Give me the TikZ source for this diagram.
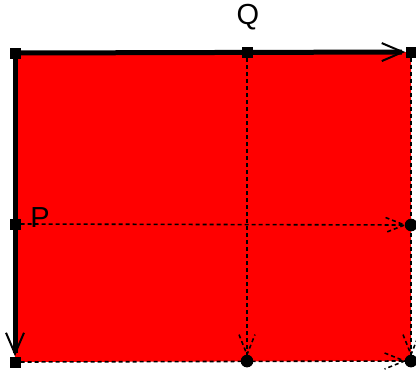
\documentclass[tikz,border=0pt]{standalone}
\usepackage{fontspec}
\setmainfont{Liberation Sans}
\usetikzlibrary{arrows.meta,calc}
\begin{document}
\begin{tikzpicture}[x=1pt,y=-1pt,
  sq/.style={fill=black,rectangle,inner sep=0pt,minimum size=11pt},
  dotmark/.style={fill=black,circle,inner sep=0pt,minimum size=12.5pt},
  thickedge/.style={line width=5pt,-{Straight Barb[length=21pt,width=18pt,line width=2pt]}},
  dashline/.style={line width=1.6pt,dash pattern=on 4pt off 3pt},
  lbl/.style={font=\fontsize{29}{33}\selectfont,inner sep=0pt}]
\useasboundingbox (0,0) rectangle (416,373);
% markers
\node[sq] (tl) at (15,53) {};
\node[sq] (tm) at (247,52.5) {};
\node[sq] (tr) at (411,52) {};
\node[sq] (lm) at (15,224) {};
\node[sq] (bl) at (15,362) {};
\node[dotmark] (bm) at (247,361) {};
\node[dotmark] (rm) at (411,225) {};
\node[dotmark] (br) at (411,361) {};
% fill
\fill[red] (tl.center) -- (tr.center) -- (br.center) -- (bl.center) -- cycle;
% dashed connectors
\draw[dashline] (tr.south) -- (br.north);
\draw[dashline] (bl.east) -- (br.west);
\draw[dashline] (tm.south) -- (bm.north);
\draw[dashline] (lm.east) -- (rm.west);
% dashed barbs
\draw[dashline] ($(bm.north)+(-8,-20)$) -- (bm.north) -- ($(bm.north)+(8,-20)$);
\draw[dashline] ($(rm.west)+(-19,-7.5)$) -- (rm.west) -- ($(rm.west)+(-19,7.5)$);
\draw[dashline] ($(br.north)+(-8,-20)$) -- (br.north) -- ($(br.north)+(8,-20)$);
\draw[dashline] ($(br.west)+(-20,-8)$) -- (br.west) -- ($(br.west)+(-20,8)$);
% thick edges
\draw[thickedge] (tl) -- (tr);
\draw[thickedge] (tl) -- (bl);
% markers on top
\node[sq] at (tl) {};
\node[sq] at (tm) {};
\node[sq] at (tr) {};
\node[sq] at (lm) {};
\node[sq] at (bl) {};
\node[dotmark] at (bm) {};
\node[dotmark] at (rm) {};
\node[dotmark] at (br) {};
% labels
\node[lbl] (q) at (248,17) {Q};
\node[lbl,anchor=base] (p) at (40,227) {P};
\end{tikzpicture}
\end{document}
